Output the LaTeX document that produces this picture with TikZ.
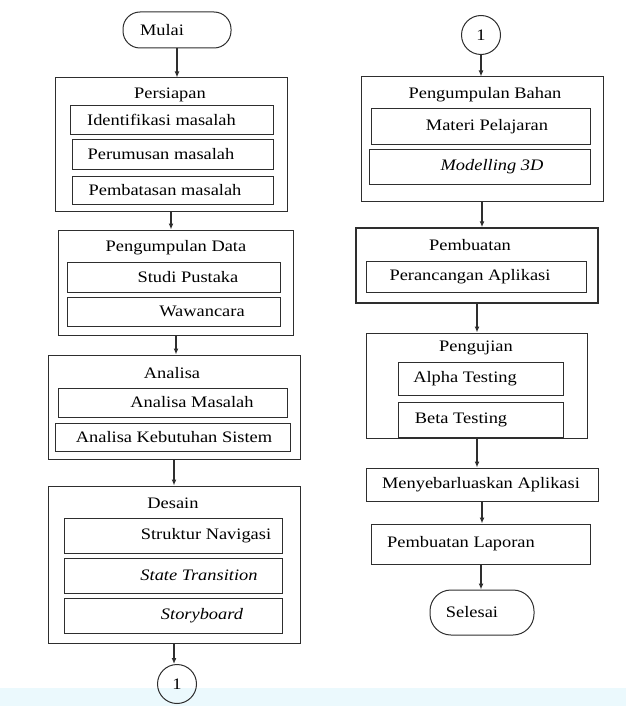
\documentclass[tikz,border=0pt]{standalone}
\usepackage{fontspec}
\setmainfont[FakeStretch=1.15]{Liberation Serif}
\usetikzlibrary{arrows.meta}
\definecolor{linegray}{HTML}{2E2E2E}
\definecolor{bandcyan}{HTML}{EBF9FD}
\newcommand{\sidetext}[2]{\makebox[0pt]{\hspace*{#1}#2}}
\begin{document}
\begin{tikzpicture}[x=1pt,y=-1pt,
  font=\fontsize{16}{19}\selectfont,
  sz/.style 2 args={minimum width=#1pt,minimum height=#2pt},
  box/.style={draw=linegray,line width=1pt,rectangle,inner sep=0pt},
  term/.style={box,rounded corners=17pt},
  conn/.style={draw=linegray,line width=1pt,circle,minimum size=39pt,inner sep=0pt},
  title/.style={inner sep=0pt},
  arr/.style={draw=linegray,line width=1.4pt,-{Latex[length=6pt,width=5pt]}}]%
  \useasboundingbox (0,0) rectangle (626,706);
  \fill[bandcyan] (0,688) rectangle (626,706);

  \node[term,sz={108}{36}] (mulai) at (177,30) {\sidetext{-30pt}{Mulai}};

  \node[box,sz={232}{133}] (persiapan) at (171,144.5) {};
  \node[title] (tpersiapan) at (170,95) {Persiapan};
  \node[box,sz={203}{28}] (identifikasi) at (171.5,120) {\sidetext{-20pt}{Identifikasi  masalah}};
  \node[box,sz={201}{30}] (perumusan) at (172.5,154) {\sidetext{-23pt}{Perumusan masalah}};
  \node[box,sz={201}{28}] (pembatasan) at (172.5,190) {\sidetext{-15pt}{Pembatasan  masalah}};

  \node[box,sz={235}{105}] (data) at (176,282.5) {};
  \node[title] (tdata) at (176,248) {Pengumpulan Data};
  \node[box,sz={213}{30}] (studi) at (173.5,277) {\sidetext{29pt}{Studi Pustaka}};
  \node[box,sz={213}{29}] (wawancara) at (173.5,311.5) {\sidetext{57pt}{Wawancara}};

  \node[box,sz={252}{104}] (analisa) at (174,407) {};
  \node[title] (tanalisa) at (172,373) {Analisa};
  \node[box,sz={229}{29}] (masalah) at (172.5,402.5) {\sidetext{39pt}{Analisa Masalah}};
  \node[box,sz={235}{28}] (kebutuhan) at (172.5,437) {\sidetext{3pt}{Analisa Kebutuhan Sistem}};

  \node[box,sz={252}{157}] (desain) at (174,564.5) {};
  \node[title] (tdesain) at (173,503) {Desain};
  \node[box,sz={218}{35}] (navigasi) at (173,535.5) {\sidetext{66pt}{Struktur Navigasi}};
  \node[box,sz={218}{35}] (state) at (173,575.5) {\sidetext{52pt}{\itshape State Transition}};
  \node[box,sz={218}{35}] (storyboard) at (173,615.5) {\sidetext{58pt}{\itshape Storyboard}};

  \node[conn] (cl) at (177,684) {1};

  \node[conn] (cr) at (481,35) {1};

  \node[box,sz={242}{124}] (bahan) at (482,139) {};
  \node[title] (tbahan) at (485,95) {Pengumpulan Bahan};
  \node[box,sz={219}{35}] (materi) at (480.5,126.5) {\sidetext{13pt}{Materi Pelajaran}};
  \node[box,sz={221}{35}] (modelling) at (479.5,166.5) {\sidetext{25pt}{\itshape Modelling 3D}};

  \node[box,sz={242}{75},line width=1.5pt] (pembuatan) at (477,265.5) {};
  \node[title] (tpembuatan) at (470,245) {Pembuatan};
  \node[box,sz={220}{31}] (perancangan) at (476,276.5) {\sidetext{-12pt}{Perancangan  Aplikasi}};

  \node[box,sz={221}{105}] (pengujian) at (477,385.5) {};
  \node[title] (tpengujian) at (476,348) {Pengujian};
  \node[box,sz={165}{33}] (alpha) at (480.5,378.5) {\sidetext{-31pt}{Alpha Testing}};
  \node[box,sz={165}{35}] (beta) at (480.5,419.5) {\sidetext{-39pt}{Beta Testing}};

  \node[box,sz={232}{33}] (sebar) at (482,484.5) {\sidetext{-2pt}{Menyebarluaskan Aplikasi}};
  \node[box,sz={219}{40}] (laporan) at (481,544) {\sidetext{-40pt}{Pembuatan Laporan}};
  \node[term,sz={104}{45},rounded corners=21pt] (selesai) at (482,612.5) {\sidetext{-20pt}{Selesai}};

  \foreach \a/\b in {mulai/persiapan,persiapan/data,data/analisa,analisa/desain,desain/cl,
                     cr/bahan,bahan/pembuatan,pembuatan/pengujian,pengujian/sebar,sebar/laporan,laporan/selesai}
    \draw[arr] (\a.south) -- (\a.south |- \b.north);
\end{tikzpicture}
\end{document}
